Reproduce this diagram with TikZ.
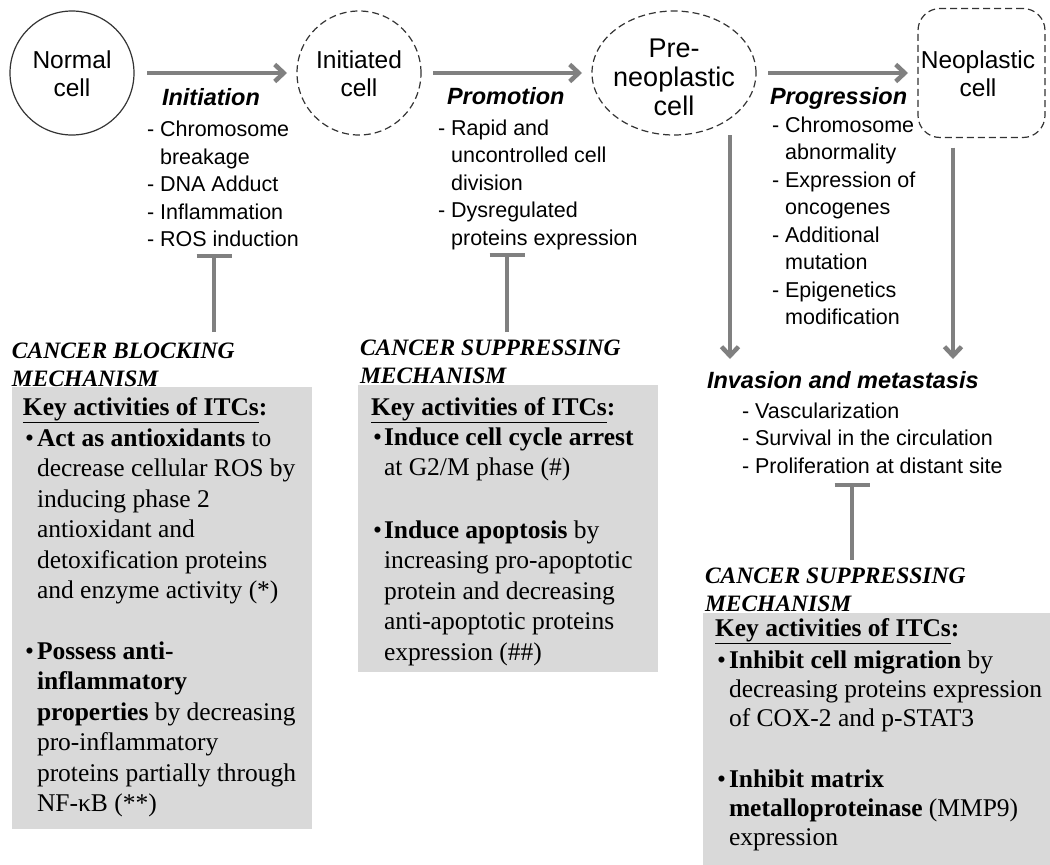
\documentclass[tikz,border=0pt]{standalone}
\usepackage{fontspec}
\setmainfont{Liberation Serif}
\setsansfont{Liberation Sans}
\usetikzlibrary{arrows.meta,shapes.geometric}
\definecolor{lg}{HTML}{808080}
\definecolor{bx}{HTML}{D9D9D9}
\definecolor{ln}{HTML}{333333}
\newcommand\sx{\rule{0pt}{20pt}}
\begin{document}
\begin{tikzpicture}[x=1pt,y=-1pt,
  every node/.style={inner sep=0pt, outer sep=0pt},
  cellt/.style={font=\sffamily\fontsize{24.5}{28.8}\selectfont, align=center, anchor=north},
  head/.style={font=\sffamily\bfseries\itshape\fontsize{23.5}{27}\selectfont, anchor=north west},
  lst/.style={font=\sffamily\fontsize{21.5}{27.5}\selectfont, align=left, anchor=north west},
  mech/.style={font=\rmfamily\bfseries\itshape\fontsize{23.5}{28.8}\selectfont, align=left, anchor=north west},
  btxt/.style={font=\rmfamily\fontsize{25.5}{30.5}\selectfont, align=left, anchor=north west},
  btxtr/.style={font=\rmfamily\fontsize{25.5}{29}\selectfont, align=left, anchor=north west},
  arr/.style={draw=lg, line width=4.5pt, -{Straight Barb[length=9pt,width=17pt]}},
  tbar/.style={draw=lg, line width=4pt, -{Bar[width=35pt]}},
  dshape/.style={draw=ln, line width=1.2pt, dash pattern=on 7pt off 4pt},
  gbox/.style={fill=bx, anchor=north west},
]
\useasboundingbox[fill=white] (0,0) rectangle (1050,865);

% cells
\node[circle, draw=ln, line width=1.2pt, minimum size=124pt] (normal) at (72,73) {};
\node[circle, dshape, minimum size=124pt] (init) at (359,73) {};
\node[ellipse, dshape, minimum width=164pt, minimum height=124pt] (pre) at (674,73) {};
\node[rectangle, rounded corners=22pt, dshape, minimum width=127pt, minimum height=129pt] (neo) at (981.5,73) {};

\node[cellt] (normalt) at (72,48) {\sx Normal\\cell};
\node[cellt] (initt) at (359,48) {\sx Initiated\\cell};
\node[cellt, font=\sffamily\fontsize{27}{29}\selectfont] (pret) at (674,37) {\sx Pre-\\neoplastic\\cell};
\node[cellt] (neot) at (978,48) {\sx Neoplastic\\cell};

% main arrows
\draw[arr, shorten <=13pt, shorten >=10pt] (normal.east) -- (init.west);
\draw[arr, shorten <=12pt, shorten >=10pt] (init.east) -- (pre.west);
\draw[arr, shorten <=12pt, shorten >=10pt] (pre.east) -- (neo.west);

% stage headings and lists
\node[head] (inith) at (162,85) {\sx Initiation};
\node[lst] (initl) at (147,116.7) {\sx- Chromosome\\\hphantom{- }breakage\\- DNA Adduct\\- Inflammation\\- ROS induction};
\node[head] (promh) at (447,84) {\sx Promotion};
\node[lst] (proml) at (438,115) {\sx- Rapid and\\\hphantom{- }uncontrolled cell\\\hphantom{- }division\\- Dysregulated\\\hphantom{- }proteins expression};
\node[head] (progh) at (770,84) {\sx Progression};
\node[lst] (progl) at (772,112) {\sx- Chromosome\\\hphantom{- }abnormality\\- Expression of\\\hphantom{- }oncogenes\\- Additional\\\hphantom{- }mutation\\- Epigenetics\\\hphantom{- }modification};

% invasion
\coordinate (inv1) at (730,359);
\coordinate (inv2) at (953,359);
\draw[arr] (pre.south -| inv1) -- (inv1);
\draw[arr, shorten <=10pt] (neo.south -| inv2) -- (inv2);
\node[head] (invh) at (707,368) {\sx Invasion and metastasis};
\node[lst] (invl) at (742,398) {\sx- Vascularization\\- Survival in the circulation\\- Proliferation at distant site};

% boxes
\node[gbox, minimum width=300pt, minimum height=442pt] (box1) at (12,387) {};
\node[gbox, minimum width=300pt, minimum height=287pt] (box2) at (358,385) {};
\node[gbox, minimum width=347pt, minimum height=252pt] (box3) at (703,613) {};

% inhibition bars
\coordinate (t1) at (214,254); \coordinate (m1) at (214,332);
\coordinate (t2) at (507,253); \coordinate (m2) at (507,332);
\coordinate (t3) at (852,483); \coordinate (m3) at (852,560);
\draw[tbar] (m1) -- (t1);
\draw[tbar] (m2) -- (t2);
\draw[tbar] (m3) -- (t3);

% mechanism labels
\node[mech] (mech1) at (12,338) {\sx CANCER BLOCKING\\MECHANISM};
\node[mech] (mech2) at (360,335) {\sx CANCER SUPPRESSING\\MECHANISM};
\node[mech] (mech3) at (705,563) {\sx CANCER SUPPRESSING\\MECHANISM};

% box 1 text
\node[btxt] (key1) at (23,395) {\sx\textbf{\underline{Key activities of ITCs}:}};
\node[btxt] (b1a) at (25,426) {\sx\textbullet};
\node[btxt] (t1a) at (37,426) {\sx\textbf{Act as antioxidants} to\\decrease cellular ROS by\\inducing phase 2\\antioxidant and\\detoxification proteins\\and enzyme activity (*)};
\node[btxt] (b1b) at (25,639) {\sx\textbullet};
\node[btxt] (t1b) at (37,639) {\sx\textbf{Possess anti-}\\\textbf{inflammatory}\\\textbf{properties} by decreasing\\pro-inflammatory\\proteins partially through\\NF-κB (**)};

% box 2 text
\node[btxt] (key2) at (371,395) {\sx\textbf{\underline{Key activities of ITCs}:}};
\node[btxt] (b2a) at (373,425) {\sx\textbullet};
\node[btxt] (t2a) at (384,425) {\sx\textbf{Induce cell cycle arrest}\\at G2/M phase (\#)};
\node[btxt] (b2b) at (373,518) {\sx\textbullet};
\node[btxt] (t2b) at (384,518) {\sx\textbf{Induce apoptosis} by\\increasing pro-apoptotic\\protein and decreasing\\anti-apoptotic proteins\\expression (\#\#)};

% box 3 text
\node[btxtr] (key3) at (715,616) {\sx\textbf{\underline{Key activities of ITCs}:}};
\node[btxtr] (b3a) at (717,648) {\sx\textbullet};
\node[btxtr] (t3a) at (729,648) {\sx\textbf{Inhibit cell migration} by\\decreasing proteins expression\\of COX-2 and p-STAT3};
\node[btxtr] (b3b) at (717,767) {\sx\textbullet};
\node[btxtr] (t3b) at (729,767) {\sx\textbf{Inhibit matrix}\\\textbf{metalloproteinase} (MMP9)\\expression};
\end{tikzpicture}
\end{document}
